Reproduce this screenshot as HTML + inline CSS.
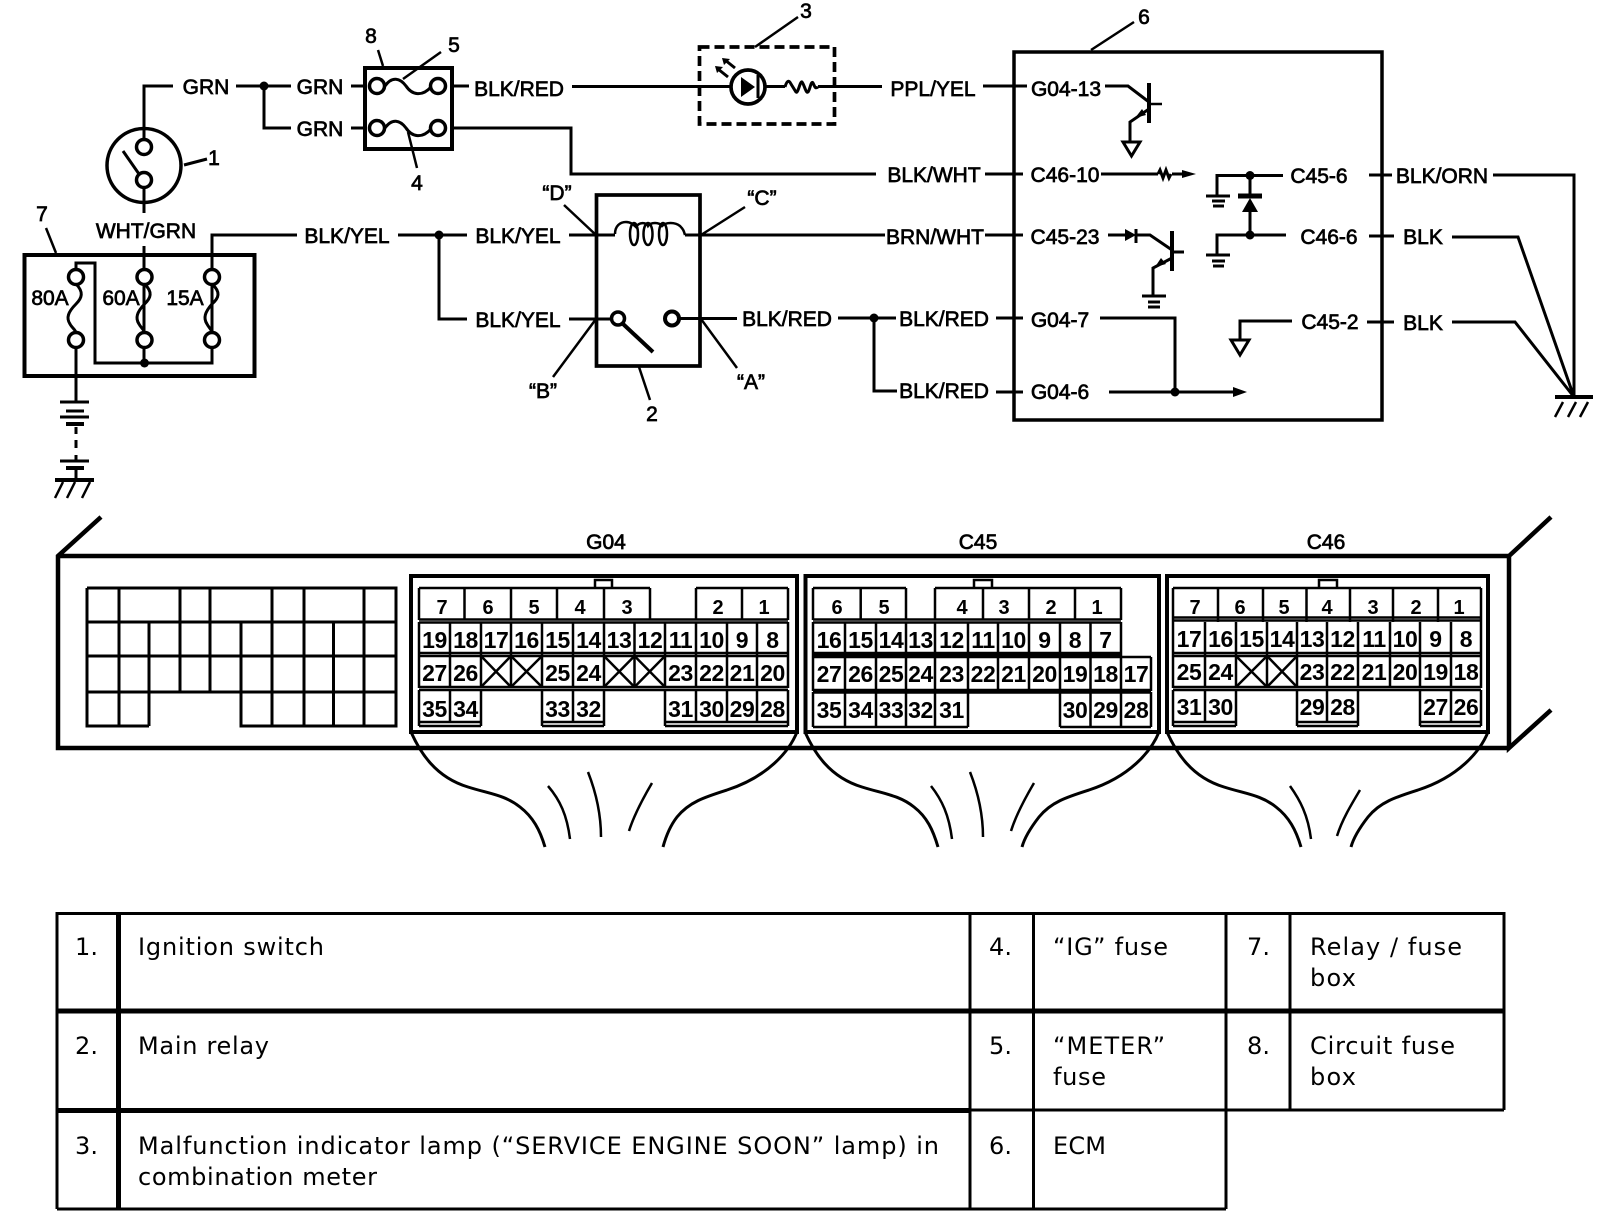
<!DOCTYPE html>
<html><head><meta charset="utf-8"><style>
html,body{margin:0;padding:0;background:#fff}
svg{display:block}
.l{font:21px "Liberation Sans",sans-serif;text-anchor:middle;stroke:#000;stroke-width:.7;fill:#000}
.a{font:20px "Liberation Sans",sans-serif;font-weight:bold;text-anchor:middle;fill:#000}
.n{font:23px "Liberation Sans",sans-serif;font-weight:bold;text-anchor:middle;fill:#000;letter-spacing:-.4px}
.m{font:24px "DejaVu Sans",sans-serif;fill:#000}
.w{fill:none;stroke:#000;stroke-width:3}
.k{fill:none;stroke:#000;stroke-width:4}
.f{fill:none;stroke:#000;stroke-width:2.5}
.t{fill:none;stroke:#000;stroke-width:2.5}
.c{fill:#fff;stroke:#000;stroke-width:3.5}
</style></head><body>
<svg width="1600" height="1226" viewBox="0 0 1600 1226" xmlns="http://www.w3.org/2000/svg">
<rect width="1600" height="1226" fill="#fff"/>

<!-- top wiring -->
<path class="w" d="M144 140V86H173M236 86H291M264 86V128H291M351 86H366M351 128H366M452 86H469M572 86.500H730M766 86.500H785M818 86.500H882M983 86H1014M1014 86H1027"/>
<path class="w" d="M452 128H571V174H876M985 174H1023"/>
<path class="w" d="M144 187V213M144 246V270"/>
<path class="w" d="M212 270V235H297M398 235H467M439 235V319H467M569 235H615M685 235H885M985 235H1023"/>
<path class="w" d="M569 319H611M680 318.500H737M838 318H896M874 318V391H897M996 318H1023M996 392H1023"/>
<path class="w" d="M1369 175H1392M1369 236H1394M1367 322H1394M1493 175H1574V397M1452 237H1518L1574 397M1452 322H1515L1574 397"/>
<circle cx="264" cy="86" r="4.5"/><circle cx="439" cy="235" r="4.5"/><circle cx="874" cy="318" r="4.5"/>

<!-- ignition switch -->
<circle class="c" cx="144" cy="165.5" r="37" style="fill:none"/>
<circle class="c" cx="144" cy="147" r="7.5"/><circle class="c" cx="144" cy="180" r="7.5"/>
<path class="w" d="M123 151L139 174M184 165L207 159"/>

<!-- fuse box 8 -->
<rect x="365" y="68" width="87" height="81" class="k"/>
<circle class="c" cx="377" cy="86" r="7.5"/><circle class="c" cx="438" cy="86" r="7.5"/>
<circle class="c" cx="377" cy="128" r="7.5"/><circle class="c" cx="438" cy="128" r="7.5"/>
<path class="w" d="M385 86C392 76 400 78 406 86C412 95 422 97 431 87M385 128C392 118 400 120 406 128C412 137 422 139 431 129"/>
<path class="f" d="M378 50L383 66M441 52L403 79M408 132L417 168M755 47L798 17M1091 50L1134 22M46 228L56 253"/>

<!-- LED box 3 -->
<rect x="699.500" y="47" width="135" height="77" fill="none" stroke="#000" stroke-width="3.700" stroke-dasharray="10 5"/>
<circle cx="748" cy="87" r="17" fill="none" stroke="#000" stroke-width="3.700"/>
<path d="M741 77L755 87L741 97Z"/><path class="w" d="M758 75V98"/>
<path class="w" d="M728 77L718 69M735 68L725 60"/>
<path d="M715 66L723 67L717 73ZM722 58L730 59L724 65Z"/>
<path class="w" d="M785 87C787 80 789 80 791 84L796 92C798 94 800 81 802 82C804 84 806 94 808 92C810 90 811 80 813 83C815 87 815 89 818 87"/>

<!-- box 7 -->
<rect x="24.500" y="255" width="230" height="121" class="k"/>
<path class="w" d="M76 270V263H95V363H212V270M144 270V363"/>
<circle cx="144.500" cy="363" r="4.500"/>
<g>
<circle class="c" cx="76" cy="277" r="7.500"/><circle class="c" cx="144.500" cy="277" r="7.500"/><circle class="c" cx="212" cy="277" r="7.500"/>
<circle class="c" cx="76" cy="340" r="7.500"/><circle class="c" cx="144.500" cy="340" r="7.500"/><circle class="c" cx="212" cy="340" r="7.500"/>
<path class="w" d="M76 284C84 292 82 298 76 304C68 312 66 318 70 324C72 328 76 330 76 333"/>
<path class="w" d="M144.500 284C153 292 151 298 144.500 304C137 312 135 318 139 324C141 328 144.500 330 144.500 333"/>
<path class="w" d="M212 284C221 292 219 298 212 304C205 312 203 318 207 324C209 328 212 330 212 333"/>
</g>
<path class="w" d="M76 347V402M76 427V434M76 440V448M76 455V461M76 468V480"/>
<path class="w" d="M60 402H89M66 411H84M60 417H89M60 461H89"/>
<path class="k" d="M66 424H84M66 468H84M55 480H94"/>
<path class="f" d="M63 482L55 498M75 482L67 498M90 482L82 498"/>

<!-- relay 2 -->
<rect x="596.500" y="195" width="103.500" height="171" class="w" style="stroke-width:3.700"/>
<path class="w" style="stroke-width:2.500" d="M615 234C615 226 620 222 626 222C631 222 634 225 636 227C639 222 646 222 648 226C651 222 659 222 662 226C666 222 675 222 680 226C684 230 684 232 685 235"/>
<ellipse class="w" style="stroke-width:2.500" cx="634" cy="234" rx="4" ry="11"/>
<ellipse class="w" style="stroke-width:2.500" cx="648" cy="234" rx="4.500" ry="11"/>
<ellipse class="w" style="stroke-width:2.500" cx="663" cy="234" rx="4" ry="11"/>
<circle class="c" cx="618" cy="318.500" r="6.500"/><circle class="c" cx="672" cy="318.500" r="7" style="stroke-width:4"/>
<path class="k" d="M622 323L653 352"/>
<path class="f" d="M564 205L596 235M745 207L701 235M701 319L737 368M596 319L553 377M639 367L650 400"/>

<!-- ECM 6 -->
<rect x="1014" y="52" width="368" height="368" class="w" style="stroke-width:3.500"/>
<path class="w" d="M1105 86H1128L1149 102M1149 109L1130 122V142"/>
<path class="k" d="M1149 83V123"/><path class="f" d="M1149 104H1162"/>
<path d="M1135 118L1142 109L1146 115Z"/>
<path class="t" d="M1123 142H1140L1131.500 156Z" style="fill:#fff;stroke-width:3"/>
<path class="w" d="M1101 174H1158M1172 174H1184"/><path class="f" d="M1158 174l2-4l3 8l3-8l3 8l2-4" style="stroke-width:3"/>
<path d="M1182 170L1196 174L1182 178Z"/>
<path class="w" d="M1217 196V175.500H1283M1250 175.500V197M1250 211V235M1217 255V235H1286"/>
<circle cx="1250" cy="175.500" r="4.500"/><circle cx="1250" cy="235" r="4.500"/>
<path class="k" style="stroke-width:5" d="M1238 196H1262"/><path d="M1250 198L1242 212H1258Z"/>
<path class="w" d="M1206 196H1230M1212 201H1225M1213 206H1224M1206 255H1230M1212 261H1225M1213 266H1224"/>
<path class="w" d="M1108 235H1126M1136 229V243M1136 235H1150L1172 250M1172 258L1153 268V296"/>
<path d="M1125 229L1136 235L1125 241Z"/>
<path class="k" d="M1172 231V271"/><path class="f" d="M1172 252H1184" style="stroke-width:3"/>
<path d="M1155 267L1161 258L1166 264Z"/>
<path class="w" d="M1142 296H1166M1148 302H1160M1148 307H1160"/>
<path class="w" d="M1292 321H1240V340"/>
<path class="t" d="M1231 340H1249L1240 355Z" style="fill:#fff;stroke-width:3"/>
<path class="w" d="M1100 318H1175V392M1109 392H1234"/>
<circle cx="1175" cy="392" r="4.500"/><path d="M1233 387L1247 392L1233 397Z"/>

<!-- right ground -->
<path class="k" d="M1555 397H1593"/>
<path class="f" d="M1563 402L1555 417M1576 402L1568 417M1588 402L1580 417"/>

<!-- labels top -->
<text class="l" x="206" y="94">GRN</text><text class="l" x="320" y="94">GRN</text><text class="l" x="320" y="136">GRN</text>
<text class="l" x="519" y="96">BLK/RED</text><text class="l" x="933" y="96">PPL/YEL</text>
<text class="l" x="1066" y="96">G04-13</text>
<text class="l" x="934" y="182">BLK/WHT</text><text class="l" x="1065" y="182">C46-10</text>
<text class="l" x="1319" y="183">C45-6</text><text class="l" x="1442" y="183">BLK/ORN</text>
<text class="l" x="146" y="238">WHT/GRN</text><text class="l" x="347" y="243">BLK/YEL</text><text class="l" x="518" y="243">BLK/YEL</text>
<text class="l" x="518" y="327">BLK/YEL</text><text class="l" x="787" y="326">BLK/RED</text>
<text class="l" x="935" y="244">BRN/WHT</text><text class="l" x="1065" y="244">C45-23</text>
<text class="l" x="1329" y="244">C46-6</text><text class="l" x="1423" y="244">BLK</text>
<text class="l" x="944" y="326">BLK/RED</text><text class="l" x="944" y="398">BLK/RED</text>
<text class="l" x="1060" y="327">G04-7</text><text class="l" x="1060" y="399">G04-6</text>
<text class="l" x="1330" y="329">C45-2</text><text class="l" x="1423" y="330">BLK</text>
<text class="l" x="50" y="305">80A</text><text class="l" x="121" y="305">60A</text><text class="l" x="185" y="305">15A</text>
<text class="l" x="214" y="165">1</text><text class="l" x="652" y="421">2</text><text class="l" x="806" y="18">3</text>
<text class="l" x="417" y="190">4</text><text class="l" x="454" y="52">5</text><text class="l" x="1144" y="24">6</text>
<text class="l" x="42" y="221">7</text><text class="l" x="371" y="43">8</text>
<text class="l" x="557" y="200">“D”</text><text class="l" x="762" y="205">“C”</text><text class="l" x="543" y="398">“B”</text><text class="l" x="751" y="389">“A”</text>

<!-- ECM connector body -->
<path class="k" style="stroke-width:4.500" d="M101 517L58 556V748H1509M58 556H1509V748L1551 710M1509 556L1551 517"/>
<text class="l" x="606" y="549">G04</text><text class="l" x="978" y="549">C45</text><text class="l" x="1326" y="549">C46</text>

<!-- left grid -->
<path class="w" d="M87 588H396V726H241V692M87 588V726H149M87 622H396M87 656H396M87 692H396M119 588V726M180 588V622M210 588V622M272 588V622M304 588V622M364 588V622M149 622V726M180 622V692M210 622V692M241 622V692M272 622V726M304 622V726M333.500 622V726M364 622V726"/>

<!-- connector outlines -->
<rect x="411" y="576" width="386" height="156" class="k" style="fill:#fff"/>
<rect x="805.500" y="576" width="353.500" height="156" class="k" style="fill:#fff"/>
<rect x="1167" y="576" width="321" height="156" class="k" style="fill:#fff"/>
<path class="f" d="M595 588V580H612V588M974 588V580H992V588M1319 588V580H1337V588"/>

<!-- G04 -->
<path class="t" d="M419 588H650M696 588H788M419 619.500H788M419 622.500H788M419 653H788M419 656H788M419 687H788M419 690H788M419 722H481M542 722H604M665 722H788M419 726H481M542 726H604M665 726H788"/>
<path class="t" d="M419 588V620M464.500 588V620M511 588V620M557 588V620M604 588V620M650 588V620M696 588V620M742 588V620M788 588V620"/>
<path class="t" d="M419 622V688M450 622V688M481 622V688M511 622V688M542 622V688M573 622V688M604 622V688M634.500 622V688M665 622V688M696 622V688M727 622V688M757 622V688M788 622V688"/>
<path class="t" d="M419 690V726M450 690V722M481 690V726M542 690V726M573 690V722M604 690V726M665 690V726M696 690V722M727 690V722M757 690V722M788 690V726"/>
<path class="t" d="M481 656L511 687M511 656L481 687M511 656L542 687M542 656L511 687M604 656L634.500 687M634.500 656L604 687M634.500 656L665 687M665 656L634.500 687"/>
<text class="a" x="442" y="614">7</text><text class="a" x="488" y="614">6</text><text class="a" x="534" y="614">5</text><text class="a" x="580" y="614">4</text><text class="a" x="627" y="614">3</text><text class="a" x="718" y="614">2</text><text class="a" x="764" y="614">1</text>
<text class="n" x="434.500" y="648">19</text><text class="n" x="465.500" y="648">18</text><text class="n" x="496" y="648">17</text><text class="n" x="526.500" y="648">16</text><text class="n" x="557.500" y="648">15</text><text class="n" x="588.500" y="648">14</text><text class="n" x="619" y="648">13</text><text class="n" x="650" y="648">12</text><text class="n" x="680.500" y="648">11</text><text class="n" x="711.500" y="648">10</text><text class="n" x="742" y="648">9</text><text class="n" x="772.500" y="648">8</text>
<text class="n" x="434.500" y="681">27</text><text class="n" x="465.500" y="681">26</text><text class="n" x="557.500" y="681">25</text><text class="n" x="588.500" y="681">24</text><text class="n" x="680.500" y="681">23</text><text class="n" x="711.500" y="681">22</text><text class="n" x="742" y="681">21</text><text class="n" x="772.500" y="681">20</text>
<text class="n" x="434.500" y="717">35</text><text class="n" x="465.500" y="717">34</text><text class="n" x="557.500" y="717">33</text><text class="n" x="588.500" y="717">32</text><text class="n" x="680.500" y="717">31</text><text class="n" x="711.500" y="717">30</text><text class="n" x="742" y="717">29</text><text class="n" x="772.500" y="717">28</text>

<!-- C45 -->
<path class="t" d="M813 588H906M935 588H1121M813 619.500H1121M813 622.500H1121M813 653H1121M813 655H1121M813 657H1151M813 690H1151M813 692.500H1151M813 727H968M1060 727H1151"/>
<path class="t" d="M813 588V620M860.700 588V620M906 588V620M935 588V620M983 588V620M1029 588V620M1075 588V620M1121 588V620"/>
<path class="t" d="M813 622V691M845 622V691M876 622V691M906 622V691M935 622V691M968 622V691M998 622V691M1029 622V691M1060 622V691M1090.500 622V691M1121 622V691M1151 657V691"/>
<path class="t" d="M813 692V727M845 692V727M876 692V727M906 692V727M935 692V727M968 692V727M1060 692V727M1090.500 692V727M1121 692V727M1151 692V727"/>
<text class="a" x="837" y="614">6</text><text class="a" x="884" y="614">5</text><text class="a" x="962" y="614">4</text><text class="a" x="1004" y="614">3</text><text class="a" x="1051" y="614">2</text><text class="a" x="1097" y="614">1</text>
<text class="n" x="829" y="648">16</text><text class="n" x="860.500" y="648">15</text><text class="n" x="891" y="648">14</text><text class="n" x="920.500" y="648">13</text><text class="n" x="951.500" y="648">12</text><text class="n" x="983" y="648">11</text><text class="n" x="1013.500" y="648">10</text><text class="n" x="1044.500" y="648">9</text><text class="n" x="1075" y="648">8</text><text class="n" x="1105.500" y="648">7</text>
<text class="n" x="829" y="682">27</text><text class="n" x="860.500" y="682">26</text><text class="n" x="891" y="682">25</text><text class="n" x="920.500" y="682">24</text><text class="n" x="951.500" y="682">23</text><text class="n" x="983" y="682">22</text><text class="n" x="1013.500" y="682">21</text><text class="n" x="1044.500" y="682">20</text><text class="n" x="1075" y="682">19</text><text class="n" x="1105.500" y="682">18</text><text class="n" x="1136" y="682">17</text>
<text class="n" x="829" y="718">35</text><text class="n" x="860.500" y="718">34</text><text class="n" x="891" y="718">33</text><text class="n" x="920.500" y="718">32</text><text class="n" x="951.500" y="718">31</text><text class="n" x="1075" y="718">30</text><text class="n" x="1105.500" y="718">29</text><text class="n" x="1136" y="718">28</text>

<!-- C46 -->
<path class="t" d="M1173 588H1481M1173 617.500H1481M1173 620.500H1481M1173 653H1481M1173 656H1481M1173 687H1481M1173 690H1481M1173 722H1236M1297 722H1358M1420 722H1481M1173 726H1236M1297 726H1358M1420 726H1481"/>
<path class="t" d="M1173 588V622M1218 588V622M1263 588V622M1306.500 588V622M1350 588V622M1393 588V622M1438 588V622M1481 588V622"/>
<path class="t" d="M1173 622V688M1205 622V688M1236 622V688M1267 622V688M1297 622V688M1327 622V688M1358 622V688M1390 622V688M1420 622V688M1451 622V688M1481 622V688"/>
<path class="t" d="M1173 690V726M1205 690V722M1236 690V726M1297 690V726M1327 690V722M1358 690V726M1420 690V726M1451 690V722M1481 690V726"/>
<path class="t" d="M1236 656L1267 687M1267 656L1236 687M1267 656L1297 687M1297 656L1267 687"/>
<text class="a" x="1195" y="614">7</text><text class="a" x="1240" y="614">6</text><text class="a" x="1284" y="614">5</text><text class="a" x="1327" y="614">4</text><text class="a" x="1373" y="614">3</text><text class="a" x="1416" y="614">2</text><text class="a" x="1459" y="614">1</text>
<text class="n" x="1189" y="647">17</text><text class="n" x="1220.500" y="647">16</text><text class="n" x="1251.500" y="647">15</text><text class="n" x="1282" y="647">14</text><text class="n" x="1312" y="647">13</text><text class="n" x="1342.500" y="647">12</text><text class="n" x="1374" y="647">11</text><text class="n" x="1405" y="647">10</text><text class="n" x="1435.500" y="647">9</text><text class="n" x="1466" y="647">8</text>
<text class="n" x="1189" y="680">25</text><text class="n" x="1220.500" y="680">24</text><text class="n" x="1312" y="680">23</text><text class="n" x="1342.500" y="680">22</text><text class="n" x="1374" y="680">21</text><text class="n" x="1405" y="680">20</text><text class="n" x="1435.500" y="680">19</text><text class="n" x="1466" y="680">18</text>
<text class="n" x="1189" y="715">31</text><text class="n" x="1220.500" y="715">30</text><text class="n" x="1312" y="715">29</text><text class="n" x="1342.500" y="715">28</text><text class="n" x="1435.500" y="715">27</text><text class="n" x="1466" y="715">26</text>

<!-- harness curves -->
<path class="w" d="M411 732c9 20 24 45 57 55c22 7 37 8 52 20c13 10 20 23 25 40M797 732c-8 20-30 45-70 58c-22 7-38 12-50 27c-7 9-11 19-14 30"/>
<path class="w" style="stroke-width:2.500" d="M548 786C560 800 567 815 570 839M588 772C597 795 601 815 601 837M652 783C642 800 634 815 629 831"/>
<path class="w" d="M805 732c9 20 24 45 57 55c22 7 37 8 52 20c13 10 19 23 24 40M1159 732c-8 20-30 45-70 58c-22 7-38 12-50 27c-7 9-14 19-17 30"/>
<path class="w" style="stroke-width:2.500" d="M931 786C942 800 949 815 952 839M970 772C979 795 983 815 983 837M1034 783C1024 800 1016 815 1011 831"/>
<path class="w" d="M1167 732c9 20 24 45 57 55c22 7 37 8 52 20c13 10 20 23 25 40M1488 732c-8 20-30 45-70 58c-22 7-38 12-50 27c-7 9-14 19-17 30"/>
<path class="w" style="stroke-width:2.500" d="M1290 786C1300 800 1308 815 1311 839M1360 790C1351 805 1342 820 1337 836"/>

<!-- table -->
<path fill="none" stroke="#000" stroke-width="3" d="M57 913.500H1504V1110M57 1209H1226M57 912V1209M970 912V1209M1033.500 912V1209M1226 912V1209M1290 912V1110"/>
<path fill="none" stroke="#000" stroke-width="5" d="M57 1011H1504M118.500 912V1209"/>
<path fill="none" stroke="#000" stroke-width="5" d="M57 1110.500H970"/>
<path fill="none" stroke="#000" stroke-width="3" d="M970 1110H1504"/>
<text class="m" x="75" y="955" textLength="23">1.</text><text class="m" x="138" y="955" textLength="186">Ignition switch</text>
<text class="m" x="989" y="955" textLength="23">4.</text><text class="m" x="1053" y="955" textLength="115">“IG” fuse</text>
<text class="m" x="1247" y="955" textLength="23">7.</text><text class="m" x="1310" y="955" textLength="152">Relay / fuse</text><text class="m" x="1310" y="986" textLength="46">box</text>
<text class="m" x="75" y="1054" textLength="23">2.</text><text class="m" x="138" y="1054" textLength="131">Main relay</text>
<text class="m" x="989" y="1054" textLength="23">5.</text><text class="m" x="1053" y="1054" textLength="112">“METER”</text><text class="m" x="1053" y="1085" textLength="53">fuse</text>
<text class="m" x="1247" y="1054" textLength="23">8.</text><text class="m" x="1310" y="1054" textLength="145">Circuit fuse</text><text class="m" x="1310" y="1085" textLength="46">box</text>
<text class="m" x="75" y="1154" textLength="23">3.</text><text class="m" x="138" y="1154" textLength="801">Malfunction indicator lamp (“SERVICE ENGINE SOON” lamp) in</text><text class="m" x="138" y="1185" textLength="239">combination meter</text>
<text class="m" x="989" y="1154" textLength="23">6.</text><text class="m" x="1053" y="1154" textLength="53">ECM</text>
</svg>
</body></html>
